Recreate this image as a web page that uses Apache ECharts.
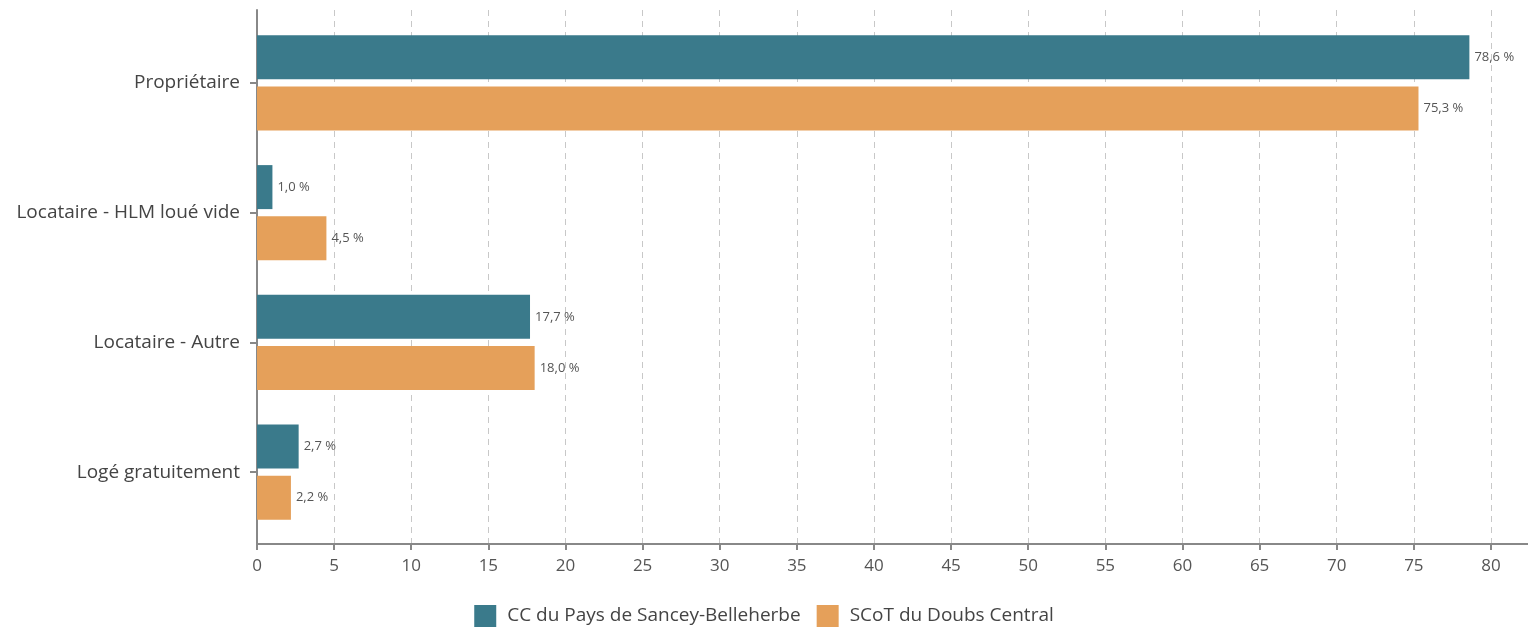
<!DOCTYPE html>
<html>
<head>
<meta charset="utf-8">
<script src="https://cdn.jsdelivr.net/npm/echarts@6/dist/echarts.min.js"></script>
<style>html,body{margin:0;padding:0;background:#fff}#c{width:1528px;height:628px}</style>
</head>
<body>
<div id="c"></div>
<script>
var categories = ['Propriétaire', 'Locataire - HLM loué vide', 'Locataire - Autre', 'Logé gratuitement'];
var seriesNames = ['CC du Pays de Sancey-Belleherbe', 'SCoT du Doubs Central'];
var valuesCC = [78.6, 1.0, 17.7, 2.7];
var valuesSCoT = [75.3, 4.5, 18.0, 2.2];
var colors = ['#3a7a8b', '#e5a05a'];
var font = 'Open Sans';

function fmt(p) { return p.value.toFixed(1).replace('.', ',') + ' %'; }

var chart = echarts.init(document.getElementById('c'));
var xMax = 82.4;
function barSeries(name, data, color) {
  return {
    name: name, type: 'bar', data: data, xAxisIndex: 1, yAxisIndex: 1,
    barWidth: 44, barGap: '16%',
    itemStyle: { color: color },
    label: { show: true, position: 'right', distance: 5, formatter: fmt,
      color: '#555', fontSize: 13, fontFamily: font }
  };
}
chart.setOption({
  animation: false,
  textStyle: { fontFamily: font },
  grid: [
    { left: 257, right: 0, top: 10, bottom: 84 },
    { left: 257, right: 0, top: 18, bottom: 91 }
  ],
  legend: {
    bottom: 1, left: 'center', itemWidth: 22, itemHeight: 22, itemGap: 16,
    icon: 'rect', padding: 0,
    textStyle: { fontSize: 19, color: '#444', fontFamily: font, padding: [0, 0, 0, 6] },
    data: seriesNames
  },
  xAxis: [
    { type: 'value', gridIndex: 0, min: 0, max: xMax, interval: 5,
      axisLine: { show: true, onZero: false, lineStyle: { color: '#888', width: 2 } },
      axisTick: { show: true, length: 6, lineStyle: { color: '#888', width: 2 } },
      axisLabel: { showMaxLabel: false, margin: 14, fontSize: 17, color: '#555', fontFamily: font },
      splitLine: { show: true, lineStyle: { color: '#c8c8c8', type: [6, 5], width: 1 } }
    },
    { type: 'value', gridIndex: 1, min: 0, max: xMax, show: false }
  ],
  yAxis: [
    { type: 'value', gridIndex: 0, min: 0, max: 1,
      axisLine: { show: true, lineStyle: { color: '#888', width: 2 } },
      axisTick: { show: false }, axisLabel: { show: false }, splitLine: { show: false } },
    { type: 'category', gridIndex: 1, inverse: true, data: categories,
      axisLine: { show: false },
      axisTick: { show: true, alignWithLabel: true, length: 7, lineStyle: { color: '#888', width: 2 } },
      axisLabel: { margin: 17, fontSize: 19, color: '#444', fontFamily: font }
    }
  ],
  series: [
    barSeries(seriesNames[0], valuesCC, colors[0]),
    barSeries(seriesNames[1], valuesSCoT, colors[1])
  ]
});
</script>
</body>
</html>
